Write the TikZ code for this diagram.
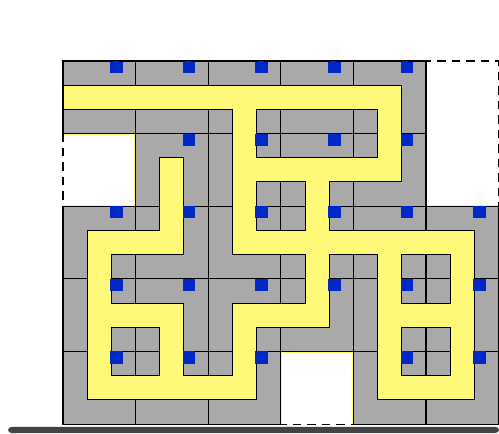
\documentclass[tikz,border=0pt]{standalone}
\usetikzlibrary{calc}
\definecolor{cellgray}{HTML}{A9A9A9}
\definecolor{laneyellow}{HTML}{FFF97A}
\definecolor{markblue}{HTML}{0028C8}
\definecolor{floorgray}{HTML}{434343}
\newcommand{\cellrows}{0/{0,1,2,3,4},1/{1,2,3,4},2/{0,1,2,3,4,5},3/{0,1,2,3,4,5},4/{0,1,2,4,5}}

\begin{document}
\begin{tikzpicture}[x=5mm,y=-5mm]
 \useasboundingbox (-2.603,-2.521) rectangle (18.017,15.372);
 % cells: yellow rim, then grey with black edges
 \foreach \r/\cols in \cellrows \foreach \c in \cols
  \draw[laneyellow,line width=1.6pt] (3*\c,3*\r) rectangle ++(3,3);
 \foreach \r/\cols in \cellrows \foreach \c in \cols
  \filldraw[fill=cellgray,draw=black,line width=.6pt] (3*\c,3*\r) rectangle ++(3,3);
 % the corridor
 \draw[line width=.6pt,double=laneyellow,double distance=13.6pt,line cap=rect]
  (0.5,1.5) -- (13.5,1.5) -- (13.5,4.5) -- (7.5,4.5)
  (7.5,1.5) -- (7.5,7.5) -- (16.5,7.5) -- (16.5,13.5) -- (13.5,13.5) -- (13.5,7.5)
  (13.5,10.5) -- (16.5,10.5)
  (10.5,4.5) -- (10.5,10.5) -- (7.5,10.5) -- (7.5,13.5) -- (1.5,13.5) -- (1.5,7.5) -- (4.5,7.5) -- (4.5,4.5)
  (1.5,10.5) -- (4.5,10.5) -- (4.5,13.5);
 \foreach \r/\cols in \cellrows \foreach \c in \cols
  \fill[markblue] (3*\c+1.95,3*\r) rectangle ++(.52,.5);
 \draw[line width=.6pt,dash pattern=on 5pt off 3.5pt] (0,0) rectangle (18,15);
 \fill[floorgray,rounded corners=2pt] (-2.27,15.12) rectangle (18.017,15.372);
\end{tikzpicture}
\end{document}
